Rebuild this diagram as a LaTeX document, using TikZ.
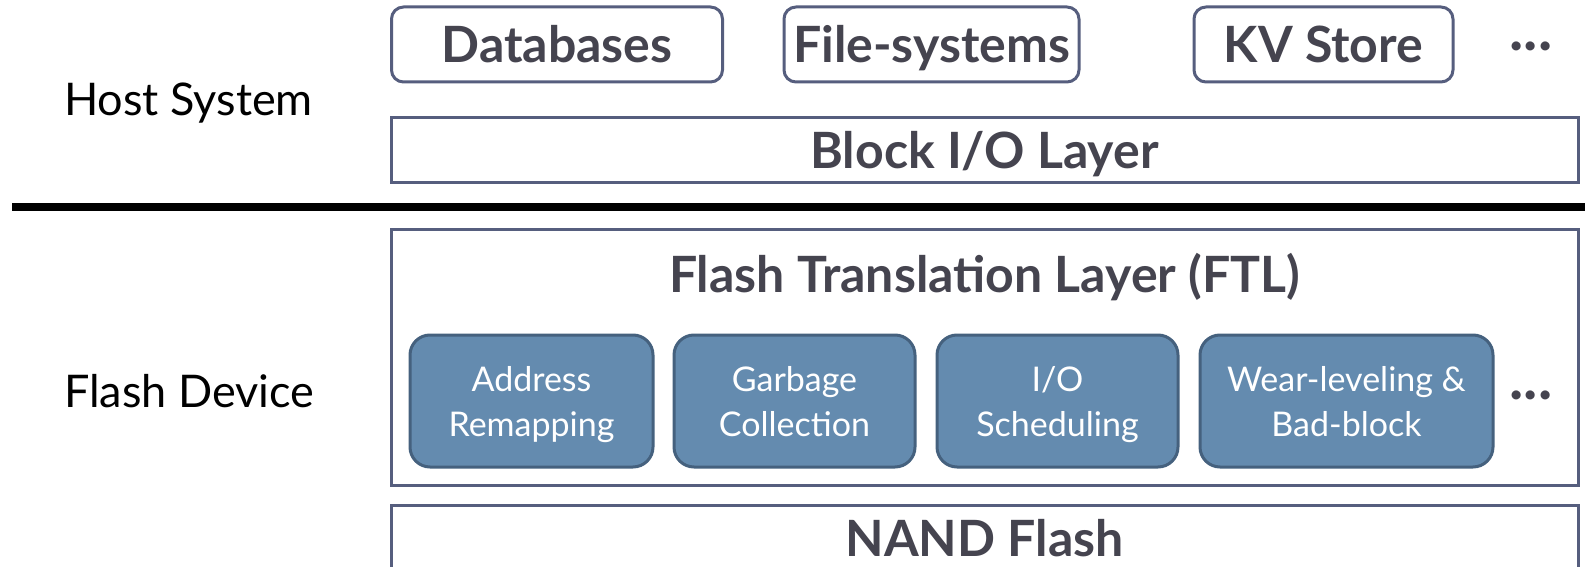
\documentclass[tikz,border=0pt]{standalone}
\usepackage{fontspec}
\setmainfont{Lato}
\definecolor{edge}{HTML}{565E7E}
\definecolor{txt}{HTML}{45444F}
\definecolor{bfill}{HTML}{648BAF}
\definecolor{bedge}{HTML}{45617E}
\tikzset{
  hostbox/.style={draw=edge, line width=3pt, rounded corners=12pt, fill=white, inner sep=0pt,
    minimum height=75pt},
  boxtext/.style={font=\fontsize{50}{56}\selectfont\bfseries, text=txt, inner sep=0pt, anchor=base},
  layerbox/.style={draw=edge, line width=3pt, fill=white, inner sep=0pt, minimum width=1187pt},
  ftlbox/.style={draw=bedge, line width=3pt, rounded corners=20pt, fill=bfill, inner sep=0pt,
    minimum height=132pt},
  ftltext/.style={text=white, align=center, inner sep=0pt, font=\fontsize{34}{45}\selectfont},
  sidelabel/.style={font=\fontsize{45}{50}\selectfont, text=black, anchor=west, inner sep=0pt},
  dots/.style={font=\fontsize{60}{60}\selectfont\bfseries, text=txt, inner sep=0pt, anchor=base}
}
\begin{document}
\begin{tikzpicture}[x=1pt,y=-1pt]
\useasboundingbox (0,0) rectangle (1585,567);
\clip (0,0) rectangle (1585,567);
% host
\node[sidelabel] (host) at (64,103) {Host System};
\node[hostbox, minimum width=331pt] (db) at (557,44.5) {};
\node[hostbox, minimum width=295pt] (fs) at (931.5,44.5) {};
\node[hostbox, minimum width=259pt] (kv) at (1323.5,44.5) {};
\node[boxtext] (dbt) at (557,63) {Databases};
\node[boxtext] (fst) at (931.5,63) {File-systems};
\node[boxtext] (kvt) at (1323.5,63) {KV Store};
\node[dots] (hdots) at (1531,51) {...};
\node[layerbox, minimum height=64pt] (bio) at (984.5,150) {};
\node[boxtext] (biot) at (984.5,168) {Block I/O Layer};
% separator
\coordinate (sepL) at (12,207);
\coordinate (sepR) at (1585,207);
\draw[line width=8pt, black] (sepL) -- (sepR);
% device
\node[sidelabel] (dev) at (64,391) {Flash Device};
\node[layerbox, minimum height=256pt] (ftl) at (984.5,357) {};
\node[boxtext] (ftlt) at (984.5,292) {Flash Translation Layer (FTL)};
\node[ftlbox, minimum width=243pt] (addr) at (531.5,401) {};
\node[ftlbox, minimum width=241pt] (gc) at (794.5,401) {};
\node[ftlbox, minimum width=241pt] (io) at (1057.5,401) {};
\node[ftlbox, minimum width=293pt] (wl) at (1346.5,401) {};
\node[ftltext] (addrt) at (531.5,405) {\strut Address\\\strut Remapping};
\node[ftltext] (gct) at (794.5,405) {\strut Garbage\\\strut Collection};
\node[ftltext] (iot) at (1057.5,405) {\strut I/O\\\strut Scheduling};
\node[ftltext] (wlt) at (1346.5,405) {\strut Wear-leveling \&\\\strut Bad-block};
\node[dots] (fdots) at (1531,399) {...};
\node[layerbox, minimum height=80pt] (nand) at (984.5,545) {};
\node[boxtext] (nandt) at (984.5,556) {NAND Flash};
\end{tikzpicture}
\end{document}
